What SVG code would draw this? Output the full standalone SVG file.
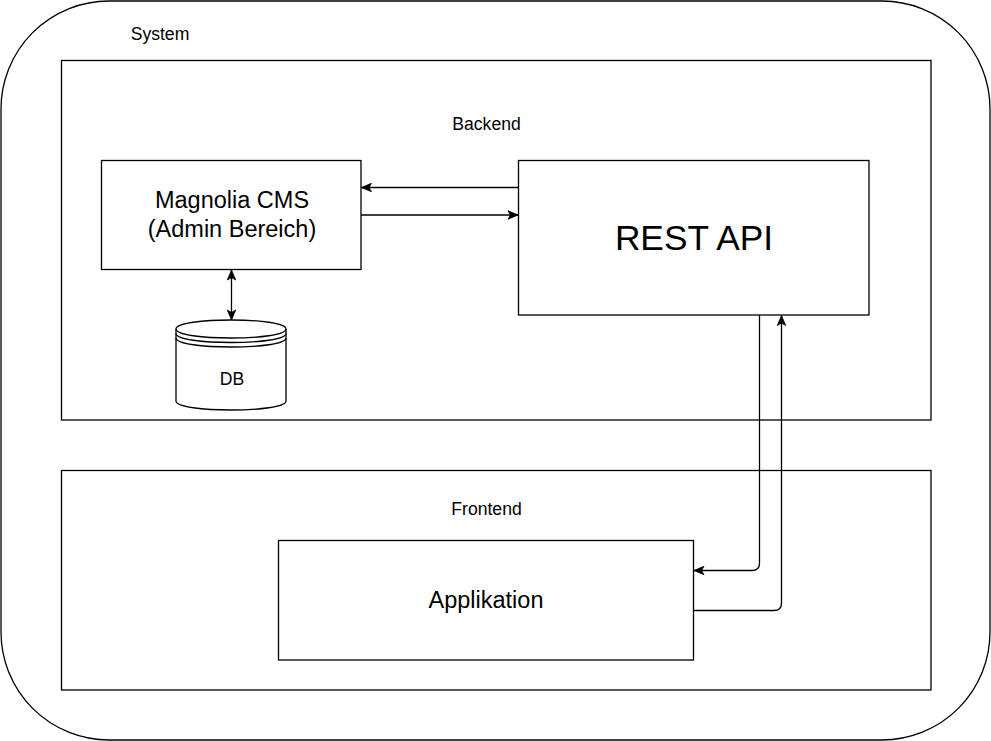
<svg xmlns="http://www.w3.org/2000/svg" width="991" height="741" viewBox="0 0 991 741">
<style>
.box{fill:#fff;stroke:#000;stroke-width:1.3}
.edge{fill:none;stroke:#000;stroke-width:1.3}
text{font-family:"Liberation Sans",Arial,sans-serif;fill:#000;text-anchor:middle}
.s{font-size:17.6px}
.m{font-size:23.5px}
.l{font-size:35.3px}
</style>
<defs>
<marker id="arr" markerUnits="userSpaceOnUse" markerWidth="12" markerHeight="10" viewBox="0 0 12 10" refX="11" refY="5" orient="auto-start-reverse">
<path d="M1,0.8 L11,5 L1,9.2 L3.5,5 Z" fill="#000" stroke="#000" stroke-width="0.8"/>
</marker>
</defs>
<g id="system">
<rect class="box" x="1" y="1" width="989" height="739" rx="108" ry="108"/>
<text class="s" x="160" y="40">System</text>
</g>
<g id="backend">
<rect class="box" x="61.5" y="60.5" width="869.5" height="359.5"/>
<text class="s" x="486.5" y="130">Backend</text>
</g>
<g id="frontend">
<rect class="box" x="61.5" y="470.5" width="869.5" height="219.5"/>
<text class="s" x="486.5" y="515">Frontend</text>
</g>
<g id="magnolia">
<rect class="box" x="101.5" y="160.5" width="259.5" height="109"/>
<text class="m" x="232" y="208">Magnolia CMS</text>
<text class="m" x="232" y="237">(Admin Bereich)</text>
</g>
<g id="restapi">
<rect class="box" x="518.5" y="160.5" width="350.5" height="154.5"/>
<text class="l" x="694" y="249.5">REST API</text>
</g>
<g id="db">
<path class="box" d="M176,329 C176,317 286,317 286,329 L286,401 C286,413 176,413 176,401 Z"/>
<path class="edge" d="M176,329 C176,341 286,341 286,329"/>
<path class="edge" d="M176,333.5 C176,345.5 286,345.5 286,333.5"/>
<path class="edge" d="M176,338 C176,350 286,350 286,338"/>
<text class="s" x="232" y="385">DB</text>
</g>
<g id="applikation">
<rect class="box" x="278.5" y="540.5" width="415" height="119.5"/>
<text class="m" x="486" y="608">Applikation</text>
</g>
<g id="connectors">
<path class="edge" d="M518.5,187.5 H361.5" marker-end="url(#arr)"/>
<path class="edge" d="M361,215 H518" marker-end="url(#arr)"/>
<path class="edge" d="M231.5,270 V320" marker-start="url(#arr)" marker-end="url(#arr)"/>
<path class="edge" d="M759.5,315 V563 Q759.5,570.5 752,570.5 H694" marker-end="url(#arr)"/>
<path class="edge" d="M694,610.5 H774 Q781.5,610.5 781.5,603 V315.5" marker-end="url(#arr)"/>
</g>
</svg>
